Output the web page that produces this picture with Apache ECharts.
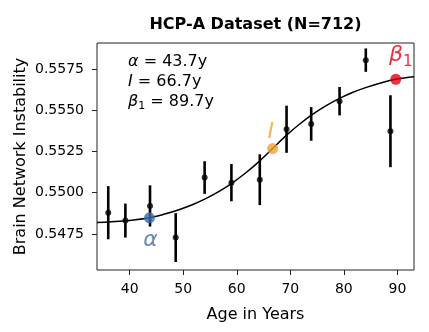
<!DOCTYPE html>
<html>
<head>
<meta charset="utf-8">
<script src="https://cdn.jsdelivr.net/npm/echarts@6/dist/echarts.min.js"></script>
<style>html,body{margin:0;padding:0;background:#fff;}#c{width:429px;height:332px;}</style>
</head>
<body>
<div id="c"></div>
<script>
// ---- data ----
const ages   = [36.0, 39.2, 43.8, 48.6, 54.0, 59.0, 64.3, 69.3, 73.9, 79.2, 84.1, 88.7];
const means  = [0.54879, 0.54831, 0.54920, 0.54728, 0.55092, 0.55061, 0.55079, 0.55385, 0.55417, 0.55555, 0.55804, 0.55373];
const errors = [0.00161, 0.00103, 0.00125, 0.00148, 0.00099, 0.00113, 0.00154, 0.00143, 0.00102, 0.00086, 0.00071, 0.00218];

const curveAges   = [33.9, 36.0, 40.0, 43.7, 46.7, 49.2, 51.7, 54.2, 56.7, 59.2, 61.7, 64.2, 66.7, 69.2, 71.7, 74.2, 76.7, 79.2, 81.7, 84.2, 86.7, 89.7, 93.1];
const curveValues = [0.54819, 0.54823, 0.54832, 0.54848, 0.54872, 0.54897, 0.54927, 0.54964, 0.55008, 0.55060, 0.55121, 0.55190, 0.55268, 0.55346, 0.55415, 0.55476, 0.55528, 0.55572, 0.55609, 0.55639, 0.55664, 0.55688, 0.55703];

const keyAges   = [43.7, 66.7, 89.7];
const keyValues = [0.54848, 0.55268, 0.55688];
const keyNames  = ['α', 'I', 'β'];
const keySubs   = ['', '', '1'];
const keyColors = ['#3d6ba7', '#eba22c', '#e3000f'];

const xTicks = [40, 50, 60, 70, 80, 90];
const yTicks = [0.5475, 0.5500, 0.5525, 0.5550, 0.5575];

const annotValues = ['43.7y', '66.7y', '89.7y'];

// ---- chart ----
const FONT = '"DejaVu Sans", sans-serif';
const chart = echarts.init(document.getElementById('c'), null, {renderer: 'canvas'});

const keyLabelOffsets = [[1, 22], [-2, -16], [5, -24]];

const option = {
  animation: false,
  backgroundColor: '#fff',
  textStyle: {fontFamily: FONT},
  grid: {left: 97, right: 15, top: 43, bottom: 62, show: true, borderColor: '#222', borderWidth: 1, backgroundColor: 'transparent'},
  xAxis: {
    type: 'value', min: 33.9, max: 93.1,
    name: 'Age in Years', nameLocation: 'middle', nameGap: 37, nameMoveOverlap: false,
    nameTextStyle: {fontSize: 16, color: '#000', fontFamily: FONT},
    axisLine: {show: false},
    splitLine: {show: false},
    axisTick: {show: true, length: 5, lineStyle: {color: '#222'}, customValues: xTicks},
    axisLabel: {fontSize: 14, color: '#000', margin: 12, fontFamily: FONT, customValues: xTicks, formatter: v => String(v)}
  },
  yAxis: {
    type: 'value', min: 0.545314, max: 0.559079,
    name: 'Brain Network Instability', nameLocation: 'middle', nameGap: 68, nameMoveOverlap: false,
    nameTextStyle: {fontSize: 16, color: '#000', fontFamily: FONT},
    axisLine: {show: false},
    splitLine: {show: false},
    axisTick: {show: true, length: 5, lineStyle: {color: '#222'}, customValues: yTicks},
    axisLabel: {fontSize: 14, color: '#000', margin: 13, fontFamily: FONT, customValues: yTicks, formatter: v => v.toFixed(4)}
  },
  series: [
    {
      type: 'custom',
      z: 2,
      data: ages.map((a, i) => [a, means[i] - errors[i], means[i] + errors[i]]),
      renderItem: function (params, api) {
        const lo = api.coord([api.value(0), api.value(1)]);
        const hi = api.coord([api.value(0), api.value(2)]);
        return {type: 'line', shape: {x1: lo[0], y1: lo[1], x2: hi[0], y2: hi[1]}, style: {stroke: '#000', lineWidth: 2.6}};
      }
    },
    {
      type: 'line', z: 3,
      data: curveAges.map((a, i) => [a, curveValues[i]]),
      smooth: 0.4, showSymbol: false, symbol: 'none',
      lineStyle: {color: '#000', width: 1.5}
    },
    {
      type: 'scatter', z: 4,
      data: ages.map((a, i) => [a, means[i]]),
      symbol: 'circle', symbolSize: 6,
      itemStyle: {color: '#000'}
    },
    {
      type: 'scatter', z: 5,
      symbol: 'circle', symbolSize: 11,
      data: keyAges.map((a, i) => ({
        value: [a, keyValues[i]],
        itemStyle: {color: keyColors[i]},
        label: {
          show: true, position: 'inside', offset: keyLabelOffsets[i],
          formatter: keySubs[i] ? '{m|' + keyNames[i] + '}{s|' + keySubs[i] + '}' : '{m|' + keyNames[i] + '}',
          rich: {
            m: {fontSize: 22, fontStyle: 'italic', color: keyColors[i], fontFamily: FONT, lineHeight: 28},
            s: {fontSize: 15, color: keyColors[i], fontFamily: FONT, lineHeight: 18, verticalAlign: 'bottom'}
          }
        }
      }))
    }
  ],
  graphic: [
    {
      type: 'text', x: 255.5, y: 25,
      style: {text: 'HCP-A Dataset (N=712)', font: 'bold 16px ' + FONT, fill: '#000', align: 'center', verticalAlign: 'middle'}
    },
    {
      type: 'text', x: 128, y: 51.5,
      style: {
        text: keyNames.map((n, i) => '{i|' + n + '}' + (keySubs[i] ? '{s|' + keySubs[i] + '}' : '') + '{t| = ' + annotValues[i] + '}').join('\n'),
        fill: '#000', verticalAlign: 'top', align: 'left',
        fontSize: 16, fontFamily: FONT, lineHeight: 20,
        rich: {
          i: {fontSize: 16, fontStyle: 'italic', fontFamily: FONT, fill: '#000', lineHeight: 20},
          t: {fontSize: 16, fontFamily: FONT, fill: '#000', lineHeight: 20},
          s: {fontSize: 11, fontFamily: FONT, fill: '#000', lineHeight: 12, verticalAlign: 'bottom'}
        }
      }
    }
  ]
};
chart.setOption(option);
</script>
</body>
</html>
